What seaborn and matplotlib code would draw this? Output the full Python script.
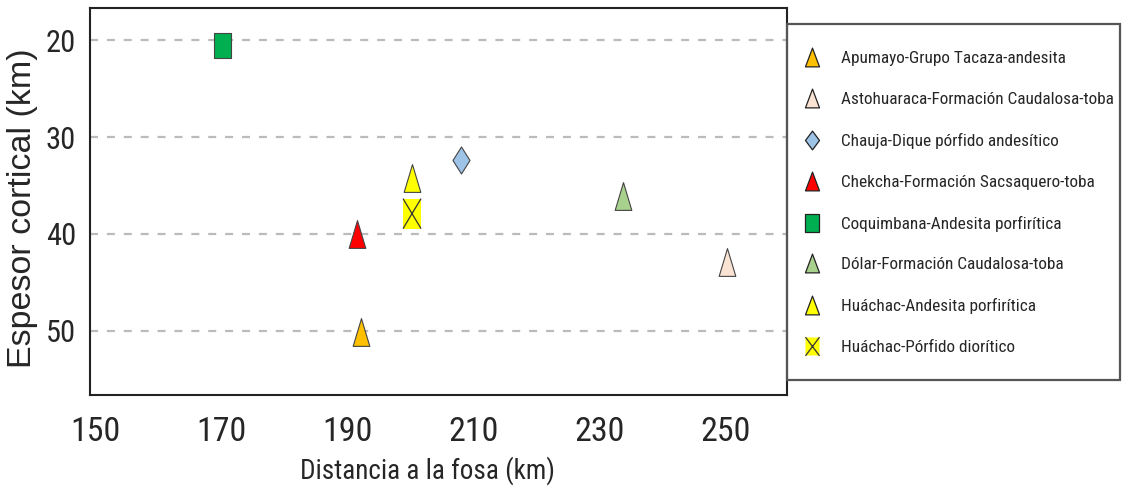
import numpy as np
import pandas as pd
import matplotlib
matplotlib.use("Agg")
import matplotlib.pyplot as plt
import seaborn as sns
from matplotlib import font_manager as fm
from matplotlib.path import Path
from matplotlib.lines import Line2D
from matplotlib.patches import Rectangle
from matplotlib.legend_handler import HandlerTuple

# ---------------- data ----------------
unidades = [
    "Apumayo-Grupo Tacaza-andesita",
    "Astohuaraca-Formación Caudalosa-toba",
    "Chauja-Dique pórfido andesítico",
    "Chekcha-Formación Sacsaquero-toba",
    "Coquimbana-Andesita porfirítica",
    "Dólar-Formación Caudalosa-toba",
    "Huáchac-Andesita porfirítica",
    "Huáchac-Pórfido diorítico",
]
distancia = [192.2, 250.2, 208.0, 191.6, 170.2, 233.8, 200.3, 200.3]
espesor = [50.1, 42.9, 32.4, 40.0, 20.5, 36.1, 34.2, 37.9]
colores = ["#FFC000", "#FBE3D3", "#9DC3E6", "#FF0000", "#00B050", "#A9D18E", "#FFFF00", "#FFFF00"]
formas = ["tri", "tri", "dia", "tri", "sq", "tri", "tri", "sqx"]
xticks = [150, 170, 190, 210, 230, 250]
yticks = [20, 30, 40, 50]

df = pd.DataFrame({"unidad": unidades, "distancia": distancia, "espesor": espesor,
                   "color": colores, "forma": formas})

# ---------------- fonts (register system fonts in case the cache is stale) ----------------
for p in fm.findSystemFonts():
    low = p.lower()
    if any(k in low for k in ("liberation", "condensed", "narrow", "roboto")):
        try:
            fm.fontManager.addfont(p)
        except Exception:
            pass
names = {f.name for f in fm.fontManager.ttflist}
narrow_fam = ["Liberation Sans", "DejaVu Sans"]
for cand in ("Liberation Sans Narrow", "Arial Narrow", "Roboto Condensed"):
    if cand in names:
        narrow_fam = [cand, "DejaVu Sans"]
        break
regular_fam = ["Liberation Sans", "Arial", "DejaVu Sans"]

# ---------------- marker shapes ----------------
def tri(a):
    return Path([(0, 1), (-a, -1), (a, -1), (0, 1)],
                [Path.MOVETO, Path.LINETO, Path.LINETO, Path.CLOSEPOLY])

def dia(a):
    return Path([(0, 1), (a, 0), (0, -1), (-a, 0), (0, 1)],
                [Path.MOVETO, Path.LINETO, Path.LINETO, Path.LINETO, Path.CLOSEPOLY])

def sq(a):
    return Path([(-a, -1), (a, -1), (a, 1), (-a, 1), (-a, -1)],
                [Path.MOVETO, Path.LINETO, Path.LINETO, Path.LINETO, Path.CLOSEPOLY])

def xm(a):
    return Path([(-a, -1), (a, 1), (-a, 1), (a, -1)],
                [Path.MOVETO, Path.LINETO, Path.MOVETO, Path.LINETO])

# ---------------- figure ----------------
sns.set_style("white")
plt.rcParams["font.family"] = narrow_fam

W, H = 1122, 504
fig = plt.figure(figsize=(W / 100, H / 100), dpi=100)
ax = fig.add_axes([90 / W, 1 - 395 / H, (787 - 90) / W, (395 - 8) / H])

for yv in yticks:
    ax.axhline(yv, color="#BBBBBB", lw=1.6, ls=(0, (3.6, 4.0)), zorder=0)

edge = "#444444"
for _, r in df.iterrows():
    sub = df[df["unidad"] == r["unidad"]]
    if r["forma"] == "tri":
        sns.scatterplot(data=sub, x="distancia", y="espesor", marker=tri(0.6), s=400,
                        color=r["color"], edgecolor=edge, linewidth=0.8, ax=ax, legend=False, zorder=3)
    elif r["forma"] == "dia":
        sns.scatterplot(data=sub, x="distancia", y="espesor", marker=dia(0.63), s=378,
                        color=r["color"], edgecolor=edge, linewidth=0.8, ax=ax, legend=False, zorder=3)
    elif r["forma"] == "sq":
        sns.scatterplot(data=sub, x="distancia", y="espesor", marker=sq(0.68), s=324,
                        color=r["color"], edgecolor=edge, linewidth=0.8, ax=ax, legend=False, zorder=3)
    else:
        sns.scatterplot(data=sub, x="distancia", y="espesor", marker=sq(0.6), s=467,
                        color=r["color"], edgecolor="none", linewidth=0, ax=ax, legend=False, zorder=3)
        sns.scatterplot(data=sub, x="distancia", y="espesor", marker=xm(0.6), s=467,
                        facecolor="none", edgecolor="#333333", linewidth=0.9, ax=ax, legend=False, zorder=4)

ax.set_xlim(149.2, 259.8)
ax.set_ylim(56.6, 16.7)
ax.set_xticks(xticks)
ax.set_yticks(yticks)
ax.tick_params(axis="x", length=0, pad=15, labelsize=24.5)
ax.tick_params(axis="y", length=0, pad=10, labelsize=22)
ax.set_xlabel("Distancia a la fosa (km)", fontsize=19.5)
ax.xaxis.set_label_coords((428 - 90) / 697, -(456 - 395) / 387)
ax.xaxis.label.set_va("top")
ax.set_ylabel("Espesor cortical (km)", fontsize=24.5, family=regular_fam)
ax.yaxis.set_label_coords((38 - 90) / 697, 1 - (208 - 8) / 387)
for s in ax.spines.values():
    s.set_visible(True)
    s.set_color("#222222")
    s.set_linewidth(1.5)

# ---------------- legend ----------------
handles = []
for _, r in df.iterrows():
    if r["forma"] == "tri":
        h = Line2D([], [], ls="none", marker=tri(0.75), markersize=13.5,
                   markerfacecolor=r["color"], markeredgecolor="#222222", markeredgewidth=0.9)
    elif r["forma"] == "dia":
        h = Line2D([], [], ls="none", marker=dia(0.75), markersize=13.5,
                   markerfacecolor=r["color"], markeredgecolor="#222222", markeredgewidth=0.9)
    elif r["forma"] == "sq":
        h = Line2D([], [], ls="none", marker=sq(0.75), markersize=13.5,
                   markerfacecolor=r["color"], markeredgecolor="#222222", markeredgewidth=0.9)
    else:
        h1 = Line2D([], [], ls="none", marker=sq(0.75), markersize=13.5,
                    markerfacecolor=r["color"], markeredgecolor="none")
        h2 = Line2D([], [], ls="none", marker=xm(0.75), markersize=13.5,
                    markerfacecolor="none", markeredgecolor="#333333", markeredgewidth=0.9)
        h = (h1, h2)
    handles.append(h)

fig.add_artist(Rectangle((787 / W, 1 - 380 / H), (1120 - 787) / W, (380 - 24) / H,
                         transform=fig.transFigure, fill=False, edgecolor="#555555", lw=1.6))
fig.legend(handles, unidades, loc="upper left", bbox_to_anchor=(803 / W, 1 - 51 / H),
           frameon=False, borderaxespad=0, borderpad=0, handlelength=1.0, handletextpad=1.2,
           labelspacing=1.5, fontsize=12.4, handler_map={tuple: HandlerTuple(ndivide=1)})

fig.savefig("out.png", dpi=100)
